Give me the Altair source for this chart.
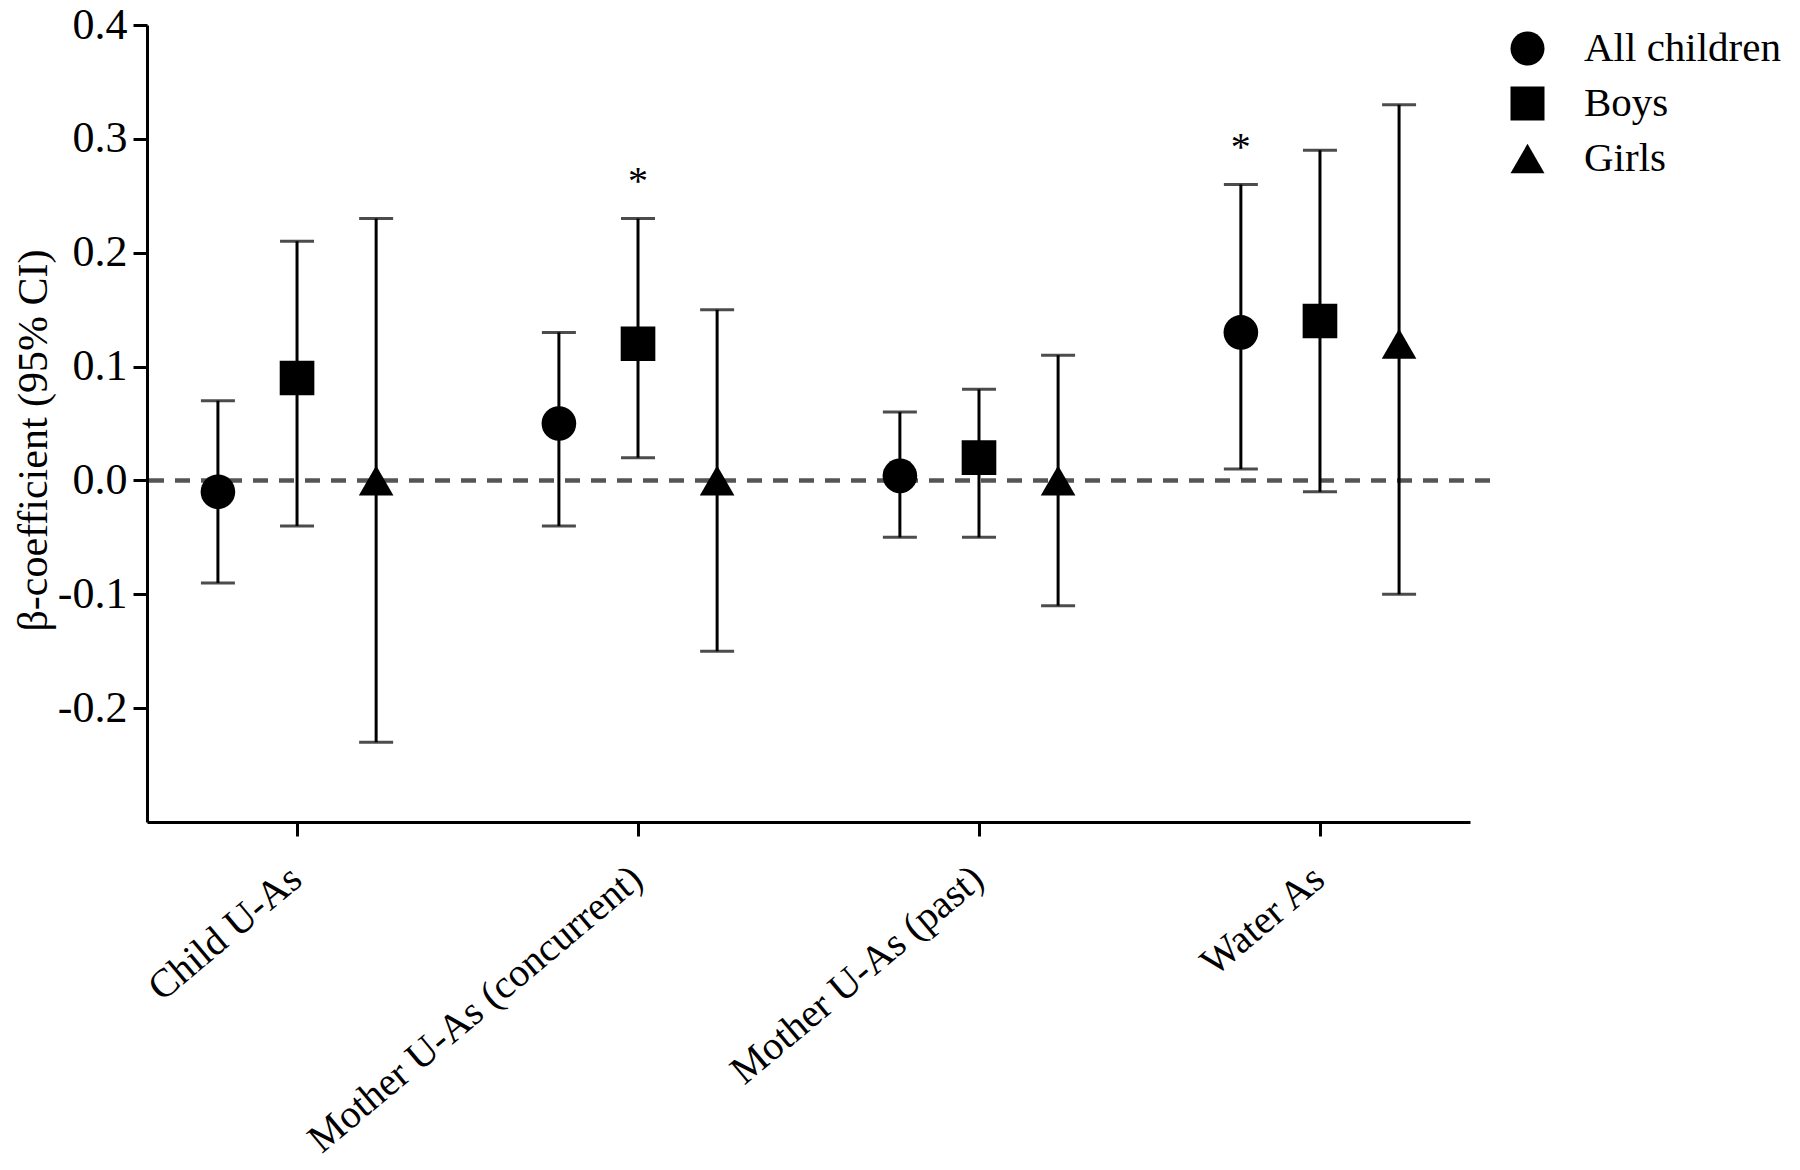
import altair as alt
import pandas as pd

categories = ["Child U-As", "Mother U-As (concurrent)", "Mother U-As (past)", "Water As"]
groups = ["All children", "Boys", "Girls"]

est_all = [-0.01, 0.05, 0.004, 0.13]
lo_all = [-0.09, -0.04, -0.05, 0.01]
hi_all = [0.07, 0.13, 0.06, 0.26]

est_boys = [0.09, 0.12, 0.02, 0.14]
lo_boys = [-0.04, 0.02, -0.05, -0.01]
hi_boys = [0.21, 0.23, 0.08, 0.29]

est_girls = [0.0, 0.0, 0.0, 0.12]
lo_girls = [-0.23, -0.15, -0.11, -0.10]
hi_girls = [0.23, 0.15, 0.11, 0.33]

sig_all = [False, False, False, True]
sig_boys = [False, True, False, False]
sig_girls = [False, False, False, False]

group_offset = [-0.232, 0.0, 0.232]

rows = []
series = [
    (est_all, lo_all, hi_all, sig_all),
    (est_boys, lo_boys, hi_boys, sig_boys),
    (est_girls, lo_girls, hi_girls, sig_girls),
]
for gi, (g, (e, lo, hi, sg)) in enumerate(zip(groups, series)):
    for ci, c in enumerate(categories):
        rows.append({
            "category": c, "group": g, "pos": ci + group_offset[gi],
            "est": e[ci], "lo": lo[ci], "hi": hi[ci], "sig": sg[ci],
        })
df = pd.DataFrame(rows)

TOP = 25
W, H = 1323, 822 - TOP
FONT = "Liberation Serif"

label_expr = ("datum.value == 0 ? 'Child U-As' : datum.value == 1 ? 'Mother U-As (concurrent)' : "
              "datum.value == 2 ? 'Mother U-As (past)' : datum.value == 3 ? 'Water As' : ''")

x_enc = alt.X("pos:Q", scale=alt.Scale(domain=[-0.44, 3.44], nice=False, zero=False),
              axis=alt.Axis(values=[0, 1, 2, 3], labelExpr=label_expr, labelAngle=-40,
                            labelAlign="right", labelBaseline="top", labelPadding=22,
                            labelOffset=-14, labelLimit=0, labelOverlap=False,
                            labelBound=False, title=None, labelFontSize=40))
y_scale = alt.Scale(domain=[-0.3, 0.4], nice=False, zero=False)
y_axis = alt.Axis(values=[-0.2, -0.1, 0.0, 0.1, 0.2, 0.3, 0.4],
                  labelExpr="replace(format(datum.value, '.1f'), '\u2212', '-')",
                  title="β-coefficient (95% CI)", titleFontSize=42, titleFontWeight="normal",
                  titleAngle=270, titleX=-101, titleY=440 - TOP, titleAlign="center",
                  titleBaseline="alphabetic", labelFontSize=44, labelPadding=6, labelLimit=0,
                  labelOverlap=False)

base = alt.Chart(df)

zero = alt.Chart(pd.DataFrame({"z": [0.0]})).mark_rule(
    color="#555555", strokeWidth=4.5, strokeDash=[15, 11]
).encode(y=alt.Y("z:Q", scale=y_scale), x=alt.value(2), x2=alt.value(W + 22))

rules = base.mark_rule(color="black", strokeWidth=3).encode(
    x=x_enc, y=alt.Y("lo:Q", scale=y_scale, axis=y_axis), y2="hi:Q")

caps_lo = base.mark_tick(color="black", thickness=3, size=34, orient="horizontal").encode(
    x="pos:Q", y=alt.Y("lo:Q", scale=y_scale))
caps_hi = base.mark_tick(color="black", thickness=3, size=34, orient="horizontal").encode(
    x="pos:Q", y=alt.Y("hi:Q", scale=y_scale))

points = base.mark_point(filled=True, opacity=1, color="black", strokeWidth=0, size=1200).encode(
    x="pos:Q", y=alt.Y("est:Q", scale=y_scale),
    shape=alt.Shape("group:N", scale=alt.Scale(domain=groups, range=["circle", "square", "triangle-up"]),
                    legend=alt.Legend(title=None, orient="none", legendX=1360, legendY=3,
                                      labelFontSize=41, labelFont=FONT, symbolSize=1156,
                                      symbolFillColor="black", symbolStrokeWidth=0,
                                      symbolType="circle", labelOffset=36, rowPadding=13,
                                      labelColor="black", labelLimit=0)))

stars = base.transform_filter("datum.sig").transform_calculate(sy="datum.hi + 0.032").mark_text(
    text="*", fontSize=40, font=FONT, color="black", baseline="middle").encode(
    x="pos:Q", y=alt.Y("sy:Q", scale=y_scale))

chart = alt.layer(zero, rules, caps_lo, caps_hi, points, stars).properties(
    width=W, height=H,
    autosize=alt.AutoSizeParams(type="none"),
    padding={"left": 139, "top": TOP - 8, "right": 322, "bottom": 338},
).configure(font=FONT).configure_view(stroke=None).configure_axis(
    grid=False, domainColor="black", domainWidth=3, tickColor="black", tickWidth=3,
    tickSize=14, labelColor="black", titleColor="black", labelFont=FONT, titleFont=FONT)

chart.save("out.html", embed_options={"renderer": "svg", "actions": False})
